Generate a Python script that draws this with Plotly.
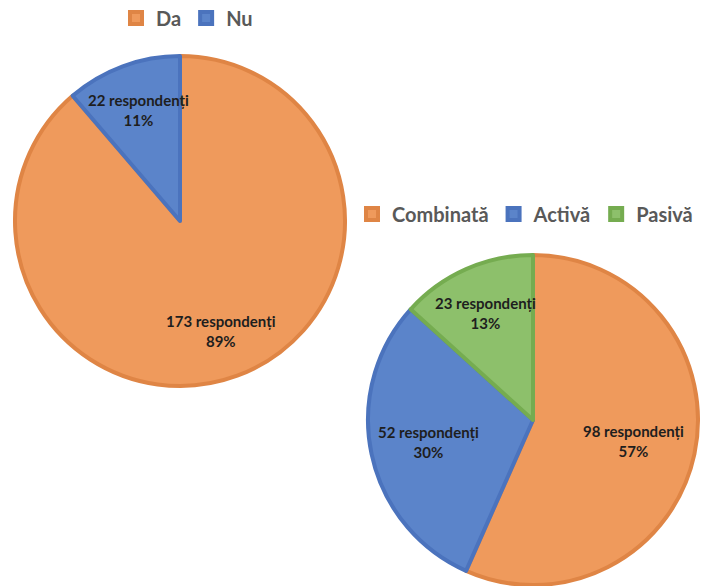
import math
import plotly.graph_objects as go

# Survey answers, first question
q1_labels = ["Da", "Nu"]
q1_values = [173, 22]

# Survey answers, second question
q2_labels = ["Combinată", "Activă", "Pasivă"]
q2_values = [98, 52, 23]

W, H = 702, 586
FILL = {"orange": "#EF9A5C", "blue": "#5B84CA", "green": "#8DC06B"}
EDGE = {"orange": "#DF8545", "blue": "#4B73BD", "green": "#75AC50"}
q1_keys = ["orange", "blue"]
q2_keys = ["orange", "blue", "green"]

# pie geometry in pixels: centre and radius
P1 = dict(cx=180, cy=221, r=165)
P2 = dict(cx=533, cy=420, r=165)
LW = 4
# radial position of each inside label as a fraction of the radius
q1_lab_r = [0.71, 0.72]
q2_lab_r = [0.62, 0.65, 0.71]


def domain(p):
    return dict(
        x=[(p["cx"] - p["r"]) / W, (p["cx"] + p["r"]) / W],
        y=[1 - (p["cy"] + p["r"]) / H, 1 - (p["cy"] - p["r"]) / H],
    )


fig = go.Figure()
fig.add_trace(go.Pie(
    labels=q1_labels, values=q1_values, sort=False, direction="clockwise",
    rotation=0, textinfo="none", hoverinfo="label+value+percent",
    marker=dict(colors=[FILL[k] for k in q1_keys],
                line=dict(color=[EDGE[k] for k in q1_keys], width=LW)),
    domain=domain(P1), legend="legend",
))
fig.add_trace(go.Pie(
    labels=q2_labels, values=q2_values, sort=False, direction="clockwise",
    rotation=0, textinfo="none", hoverinfo="label+value+percent",
    marker=dict(colors=[FILL[k] for k in q2_keys],
                line=dict(color=[EDGE[k] for k in q2_keys], width=LW)),
    domain=domain(P2), legend="legend2",
))


def add_labels(values, p, fracs):
    total = sum(values)
    start = 0.0
    for v, f in zip(values, fracs):
        share = v / total
        mid = (start + share / 2) * 2 * math.pi
        start += share
        px = p["cx"] + f * p["r"] * math.sin(mid)
        py = p["cy"] - f * p["r"] * math.cos(mid)
        fig.add_annotation(
            x=px / W, y=1 - py / H, xref="paper", yref="paper",
            xanchor="center", yanchor="middle",
            text=f"<b>{v} respondenți<br>{round(share * 100)}%</b>",
            showarrow=False, align="center",
            font=dict(family="Lato", size=15, color="#1E1E1E"),
        )


add_labels(q1_values, P1, q1_lab_r)
add_labels(q2_values, P2, q2_lab_r)

legend_font = dict(family="Lato", size=20, color="#595959", weight="bold")
fig.update_layout(
    width=W, height=H,
    margin=dict(l=0, r=0, t=0, b=0, autoexpand=False),
    paper_bgcolor="white", plot_bgcolor="white",
    showlegend=True,
    legend=dict(orientation="h", x=116 / W, y=1 - 18 / H, xanchor="left",
                yanchor="middle", font=legend_font, itemwidth=30,
                bgcolor="rgba(0,0,0,0)"),
    legend2=dict(orientation="h", x=352 / W, y=1 - 214 / H, xanchor="left",
                 yanchor="middle", font=legend_font, itemwidth=30,
                 bgcolor="rgba(0,0,0,0)"),
)

fig.write_html("out.html")
